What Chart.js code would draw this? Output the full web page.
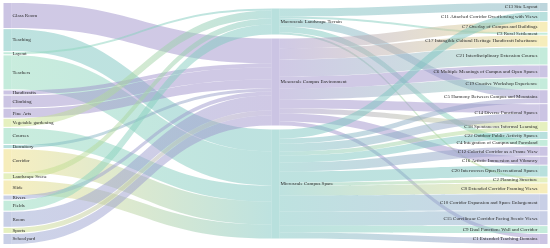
<!DOCTYPE html>
<html>
<head>
<meta charset="utf-8">
<script src="https://cdn.jsdelivr.net/npm/chart.js@4.4.1/dist/chart.umd.min.js"></script>
<style>
  html, body { margin: 0; padding: 0; background: #fff; }
  #wrap { width: 550px; height: 248px; }
</style>
</head>
<body>
<div id="wrap"><canvas id="grafico-sankey"></canvas></div>
<script>
// nós (na ordem em que aparecem em cada coluna)
const nodeNames = [
  "Glass Room", "Teaching", "Layout", "Teachers", "Handicrafts", "Climbing", "Fine Arts",
  "Vegetable gardening", "Courses", "Dormitory", "Corridor", "Landscape Scene", "Slide",
  "Rivers", "Fields", "Room", "Sports", "Schoolyard",
  "Macroscale Landscape Terrain", "Mesoscale Campus Environment", "Microscale Campus Space",
  "C13 Site Layout", "C11 Attached Corridor Overflowing with Views", "C7 Overlay of Campus and Buildings",
  "C3 Rural Settlement", "C17 Intangible Cultural Heritage Handicraft Inheritance",
  "C21 Interdisciplinary Extension Courses", "C6 Multiple Meanings of Campus and Open Spaces",
  "C19 Creative Workshop Experience", "C5 Harmony Between Campus and Mountains",
  "C14 Diverse Functional Spaces", "C18 Spontaneous Informal Learning",
  "C22 Outdoor Public Activity Spaces", "C4 Integration of Campus and Farmland",
  "C12 Colorful Corridor as a Frame View", "C16 Artistic Immersion and Vibrancy",
  "C20 Interwoven Open Recreational Spaces", "C2 Planning Structure",
  "C8 Extended Corridor Framing Views", "C10 Corridor Expansion and Space Enlargement",
  "C15 Curvilinear Corridor Facing Scenic Views", "C9 Dual Function: Wall and Corridor",
  "C1 Extended Teaching Domains"
];

const MACRO = "Macroscale Landscape Terrain";
const MESO = "Mesoscale Campus Environment";
const MICRO = "Microscale Campus Space";

// fluxos
const linkSource = [
  "Glass Room", "Teaching", "Layout", "Teachers", "Handicrafts", "Climbing", "Fine Arts",
  "Vegetable gardening", "Courses", "Dormitory", "Corridor", "Landscape Scene", "Slide",
  "Rivers", "Fields", "Room", "Sports", "Schoolyard",
  MACRO, MACRO, MACRO, MACRO, MACRO,
  MESO, MESO, MESO, MESO, MESO, MESO, MESO, MESO, MESO,
  MICRO, MICRO, MICRO, MICRO, MICRO, MICRO, MICRO, MICRO, MICRO, MICRO, MICRO, MICRO, MICRO
];
const linkTarget = [
  MESO, MICRO, MACRO, MICRO, MESO, MESO, MESO,
  MACRO, MICRO, MESO, MICRO, MACRO, MICRO,
  MESO, MACRO, MESO, MESO, MESO,
  "C13 Site Layout", "C3 Rural Settlement", "C5 Harmony Between Campus and Mountains",
  "C4 Integration of Campus and Farmland", "C2 Planning Structure",
  "C7 Overlay of Campus and Buildings", "C17 Intangible Cultural Heritage Handicraft Inheritance",
  "C21 Interdisciplinary Extension Courses", "C6 Multiple Meanings of Campus and Open Spaces",
  "C19 Creative Workshop Experience", "C14 Diverse Functional Spaces",
  "C18 Spontaneous Informal Learning", "C16 Artistic Immersion and Vibrancy",
  "C1 Extended Teaching Domains",
  "C11 Attached Corridor Overflowing with Views", "C5 Harmony Between Campus and Mountains",
  "C14 Diverse Functional Spaces", "C18 Spontaneous Informal Learning",
  "C22 Outdoor Public Activity Spaces", "C12 Colorful Corridor as a Frame View",
  "C20 Interwoven Open Recreational Spaces", "C2 Planning Structure",
  "C8 Extended Corridor Framing Views", "C10 Corridor Expansion and Space Enlargement",
  "C15 Curvilinear Corridor Facing Scenic Views", "C9 Dual Function: Wall and Corridor",
  "C1 Extended Teaching Domains"
];
const linkValue = [
  25, 22, 2, 34, 4, 12, 9,
  8, 16, 3, 23, 6, 14,
  4, 10, 15, 5, 10,
  8, 2, 8, 6, 2,
  10, 11, 17, 12, 11, 9, 5, 8, 4,
  9, 5, 8, 4, 7, 9, 11, 3, 10, 16, 14, 7, 6
];

// cores
const PURPLE = "#a194cc", TEAL = "#7dc6c1", MINT = "#94dbbd",
      YELLOW = "#eedf84", LIME = "#d0e48a", SLATE = "#9aa8d2", GREYTEAL = "#86b3c0";
const nodeColors = [
  PURPLE, TEAL, MINT, MINT, PURPLE, PURPLE, PURPLE,
  LIME, MINT, TEAL, YELLOW, LIME, YELLOW,
  SLATE, MINT, SLATE, LIME, SLATE,
  TEAL, PURPLE, TEAL,
  GREYTEAL, TEAL, YELLOW, MINT, YELLOW, MINT, PURPLE, MINT, PURPLE, PURPLE, LIME,
  TEAL, MINT, PURPLE, PURPLE, TEAL, LIME, YELLOW, SLATE, SLATE, MINT, PURPLE
];

const YMAX = 241;
const NODE_W = 8;
const MAX_GAP = 4;

function montarLayout() {
  const nos = nodeNames.map((nome, i) => ({ nome, cor: nodeColors[i], depth: 0, entrada: 0, saida: 0, ins: [], outs: [] }));
  const idx = {};
  nos.forEach((n, i) => idx[n.nome] = i);
  const links = linkValue.map((v, i) => ({ s: nos[idx[linkSource[i]]], t: nos[idx[linkTarget[i]]], v }));

  for (let k = 0; k < 4; k++) {
    links.forEach(l => { l.t.depth = Math.max(l.t.depth, l.s.depth + 1); });
  }
  links.forEach(l => {
    l.s.saida += l.v; l.t.entrada += l.v;
    l.s.outs.push(l); l.t.ins.push(l);
  });
  nos.forEach(n => n.valor = Math.max(n.entrada, n.saida));

  const maxDepth = Math.max(...nos.map(n => n.depth));
  for (let d = 0; d <= maxDepth; d++) {
    const col = nos.filter(n => n.depth === d);
    const soma = col.reduce((a, n) => a + n.valor, 0);
    const gap = col.length > 1 ? Math.min(MAX_GAP, (YMAX - soma) / (col.length - 1)) : 0;
    let y = (YMAX - soma - gap * (col.length - 1)) / 2;
    col.forEach(n => { n.y0 = y; n.y1 = y + n.valor; y = n.y1 + gap; });
  }

  nos.forEach(n => {
    let y = n.y0;
    n.outs.sort((a, b) => a.t.y0 - b.t.y0).forEach(l => { l.sy = y; y += l.v; });
    y = n.y0;
    n.ins.sort((a, b) => a.s.y0 - b.s.y0).forEach(l => { l.ty = y; y += l.v; });
  });

  return { nos, links, maxDepth };
}

const layout = montarLayout();

const sankeyPlugin = {
  id: "sankey",
  beforeDatasetsDraw(chart) {
    const ctx = chart.ctx;
    const sx = chart.scales.x, sy = chart.scales.y;

    ctx.save();
    // fluxos
    layout.links.forEach(l => {
      const x0 = sx.getPixelForValue(l.s.depth) + NODE_W / 2;
      const x1 = sx.getPixelForValue(l.t.depth) - NODE_W / 2;
      const xm = (x0 + x1) / 2;
      const a0 = sy.getPixelForValue(l.sy), b0 = sy.getPixelForValue(l.sy + l.v);
      const a1 = sy.getPixelForValue(l.ty), b1 = sy.getPixelForValue(l.ty + l.v);
      const grad = ctx.createLinearGradient(x0, 0, x1, 0);
      grad.addColorStop(0, l.s.cor);
      grad.addColorStop(1, l.t.cor);
      ctx.globalAlpha = 0.5;
      ctx.fillStyle = grad;
      ctx.beginPath();
      ctx.moveTo(x0, a0);
      ctx.bezierCurveTo(xm, a0, xm, a1, x1, a1);
      ctx.lineTo(x1, b1);
      ctx.bezierCurveTo(xm, b1, xm, b0, x0, b0);
      ctx.closePath();
      ctx.fill();
    });

    // nós
    layout.nos.forEach(n => {
      const xc = sx.getPixelForValue(n.depth);
      const top = sy.getPixelForValue(n.y0), bot = sy.getPixelForValue(n.y1);
      ctx.globalAlpha = 0.55;
      ctx.fillStyle = n.cor;
      ctx.fillRect(xc - NODE_W / 2, top, NODE_W, bot - top);
    });

    // rótulos
    ctx.globalAlpha = 1;
    ctx.fillStyle = "#2a2a2a";
    ctx.font = "5px 'Liberation Serif'";
    ctx.textBaseline = "middle";
    layout.nos.forEach(n => {
      const xc = sx.getPixelForValue(n.depth);
      const ym = sy.getPixelForValue((n.y0 + n.y1) / 2);
      if (n.depth === layout.maxDepth) {
        ctx.textAlign = "right";
        ctx.fillText(n.nome, xc - NODE_W / 2 - 2, ym);
      } else {
        ctx.textAlign = "left";
        ctx.fillText(n.nome, xc + NODE_W / 2 + 1, ym);
      }
    });
    ctx.restore();
  }
};

new Chart(document.getElementById("grafico-sankey"), {
  type: "scatter",
  data: { datasets: [{ data: [], pointRadius: 0 }] },
  options: {
    responsive: true,
    maintainAspectRatio: false,
    animation: false,
    layout: { padding: { left: 7.5, right: 6.5, top: 3, bottom: 4 } },
    plugins: { legend: { display: false }, tooltip: { enabled: false } },
    scales: {
      x: { type: "linear", min: 0, max: layout.maxDepth, display: false },
      y: { type: "linear", min: 0, max: YMAX, reverse: true, display: false }
    }
  },
  plugins: [sankeyPlugin]
});
</script>
</body>
</html>
